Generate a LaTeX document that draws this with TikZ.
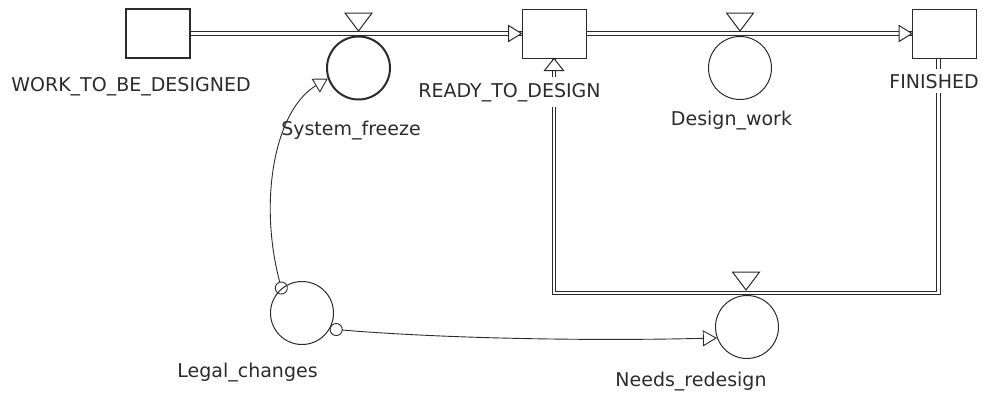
\documentclass[tikz,border=0pt]{standalone}
\usepackage{fontspec}
\setmainfont{DejaVu Sans}
\usetikzlibrary{arrows.meta}
\definecolor{ink}{HTML}{2B2B2B}

\begin{document}
\begin{tikzpicture}[x=1pt,y=-1pt,
  stock/.style={draw=ink,line width=1pt,minimum width=64pt,minimum height=49pt,inner sep=0pt},
  aux/.style={draw=ink,circle,line width=1pt,minimum size=63pt,inner sep=0pt},
  pipe/.style={draw=ink,line width=1.1pt,double=white,double distance=2.4pt},
  link/.style={draw=ink,line width=0.9pt,{Circle[open,length=13pt,width=13pt]}-{Triangle[open,length=14pt,width=16pt]}},
  lbl/.style={font=\fontsize{19}{22}\selectfont,text=ink,anchor=base,inner sep=2pt},
  valve/.pic={\draw[ink,line width=1pt,fill=white] (0,0) -- (-13.5,-18) -- (13.5,-18) -- cycle;},
  headR/.pic={\draw[ink,line width=1pt,fill=white] (0,0) -- (-13,-8) -- (-13,8) -- cycle;},
  headU/.pic={\draw[ink,line width=1pt,fill=white] (0,0) -- (-9.5,12) -- (9.5,12) -- cycle;}]
  \useasboundingbox (0,0) rectangle (983,392);
  % stocks and auxiliaries
  \node[stock,line width=2pt] (wtbd) at (157.5,33.5) {};
  \node[stock] (rtd) at (554,33.5) {};
  \node[stock] (fin) at (944.5,33.5) {};
  \node[aux,line width=2pt] (sf) at (358.5,68) {};
  \node[aux] (dw) at (740,68) {};
  \node[aux] (nr) at (747,327) {};
  \node[aux] (lc) at (302,313) {};
  % flows
  \coordinate (loop) at (747,293);
  \draw[pipe] (wtbd.east) -- (rtd.west);
  \draw[pipe] (rtd.east) -- (fin.west);
  \draw[pipe] ([xshift=-6pt]fin.south) |- (loop) -| (rtd.south);
  \pic at (rtd.west) {headR};
  \pic at (fin.west) {headR};
  \pic at (rtd.south) {headU};
  \foreach \vx/\vy in {358.5/31,740/31,746/290}{\pic at (\vx,\vy) {valve};}
  % links
  \draw[link,shorten <=-6pt] (lc.130) .. controls (258,200) and (275,110) .. (sf.199);
  \draw[link] (lc.-30) .. controls (450,339) and (600,341) .. (nr.200);
  % labels
  \node[lbl] (wtbdL) at (131,91) {WORK\_TO\_BE\_DESIGNED};
  \node[lbl,fill=white,inner ysep=6pt] (rtdL) at (509.5,97) {READY\_TO\_DESIGN};
  \node[lbl,fill=white,inner ysep=5pt] (finL) at (934,88) {FINISHED};
  \node[lbl] (sfL) at (351,135) {System\_freeze};
  \node[lbl] (dwL) at (731.5,125) {Design\_work};
  \node[lbl] (nrL) at (691,386) {Needs\_redesign};
  \node[lbl] (lcL) at (247.5,377) {Legal\_changes};
\end{tikzpicture}
\end{document}
